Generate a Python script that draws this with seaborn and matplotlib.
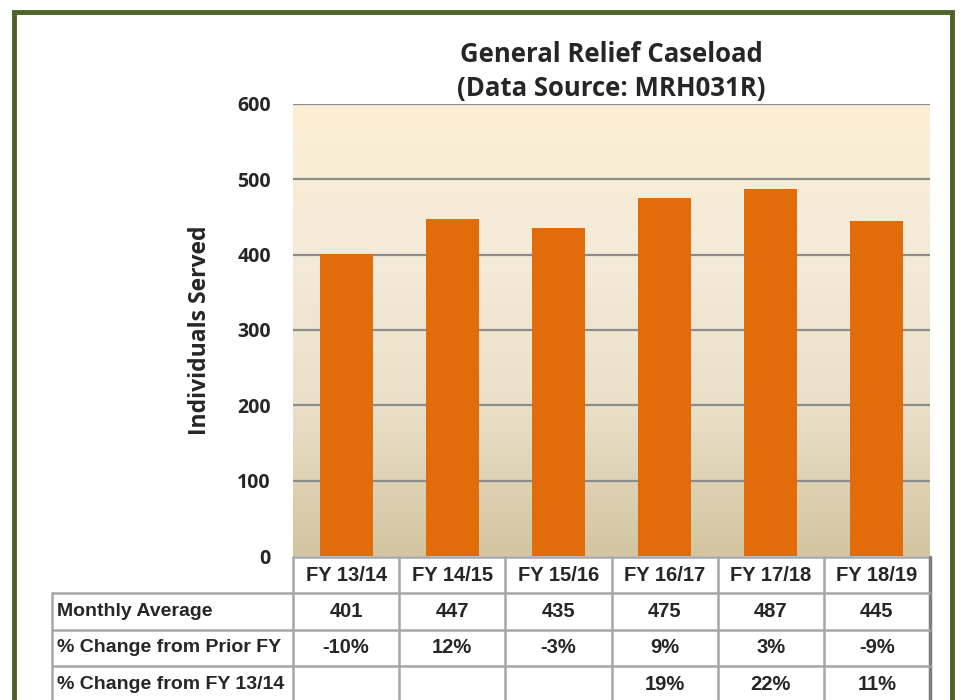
import numpy as np
import pandas as pd
import seaborn as sns
import matplotlib.pyplot as plt
from matplotlib.patches import Rectangle
from matplotlib.colors import LinearSegmentedColormap

# ---- data ----
fiscal_years = ["FY 13/14", "FY 14/15", "FY 15/16", "FY 16/17", "FY 17/18", "FY 18/19"]
monthly_average = [401, 447, 435, 475, 487, 445]
pct_prior_fy = ["-10%", "12%", "-3%", "9%", "3%", "-9%"]
pct_from_1314 = ["", "", "", "19%", "22%", "11%"]
row_labels = ["Monthly Average", "% Change from Prior FY", "% Change from FY 13/14"]
y_ticks = [0, 100, 200, 300, 400, 500, 600]

df = pd.DataFrame({"year": fiscal_years, "cases": monthly_average})

sns.set_theme(style="white")
plt.rcParams["font.family"] = ["Open Sans", "DejaVu Sans"]
narrow = ["Liberation Sans Narrow", "Liberation Sans", "DejaVu Sans"]

W, H = 961, 700
fig = plt.figure(figsize=(W / 100, H / 100), dpi=100)
fig.patch.set_facecolor("white")

def px(x0, y0, x1, y1):
    # pixel box (top-left origin) -> figure fraction rect
    return [x0 / W, 1 - y1 / H, (x1 - x0) / W, (y1 - y0) / H]

# outer frame
fig.patches.append(Rectangle((14 / W, -0.05), (952 - 14) / W, 1.05 - 12 / H,
                             transform=fig.transFigure, fill=False,
                             edgecolor="#4f6228", linewidth=3.5, zorder=0))

# ---- bar chart ----
ax = fig.add_axes(px(293, 104, 930, 556))
grad = LinearSegmentedColormap.from_list(
    "bg", ["#d3c5a0", "#eae0c8", "#f3ebd9", "#fdefd3"])
ax.imshow(np.linspace(0, 1, 256).reshape(-1, 1), cmap=grad, origin="lower",
          aspect="auto", extent=(-0.5, 5.5, 0, 600), zorder=0)
sns.barplot(data=df, x="year", y="cases", color="#e36c0a", saturation=1,
            width=0.5, linewidth=0, ax=ax, zorder=3)
ax.set_xlim(-0.5, 5.5)
ax.set_ylim(0, 600)
ax.set_yticks(y_ticks)
for t in y_ticks[1:]:
    ax.axhline(t, color="#8c8c8c", linewidth=1.6, zorder=1)
ax.set_xticks([])
ax.set_xlabel("")
ax.set_ylabel("Individuals Served", fontsize=16.5, fontweight="bold", labelpad=18)
ax.tick_params(axis="y", length=0, pad=16, labelsize=14)
for lbl in ax.get_yticklabels():
    lbl.set_fontweight("bold")
for s in ax.spines.values():
    s.set_visible(False)

ax.set_title("General Relief Caseload\n(Data Source: MRH031R)",
             fontsize=18.5, fontweight="bold", linespacing=1.3, pad=6)

# ---- data table under the chart ----
lab_w = (293 - 52) / ((930 - 293) / 6)   # label column width in category units
x_left = -0.5 - lab_w
tab = fig.add_axes(px(52, 557, 930, 700))
tab.set_xlim(x_left, 5.5)
tab.set_ylim(3.93, 0)      # row 0 = header
tab.axis("off")
line_kw = dict(color="#a6a6a6", linewidth=1.8, clip_on=False)
row_vals = [[str(v) for v in monthly_average], pct_prior_fy, pct_from_1314]

# header
for i, fy in enumerate(fiscal_years):
    tab.text(i, 0.5, fy, ha="center", va="center", fontsize=14.5,
             fontweight="bold", family=narrow)
tab.plot([-0.5, 5.5], [0, 0], **line_kw)
for i in range(7):
    tab.plot([i - 0.5, i - 0.5], [0, 4], **line_kw)
tab.plot([5.5, 5.5], [0, 4], color="#7f7f7f", linewidth=2.5, clip_on=False)
tab.plot([x_left, x_left], [1, 4], **line_kw)
for r in range(1, 4):
    tab.plot([x_left, 5.5], [r, r], **line_kw)

for r, (name, vals) in enumerate(zip(row_labels, row_vals), start=1):
    tab.text(x_left + 0.05, r + 0.5, name, ha="left", va="center", fontsize=14,
             fontweight="bold", family=narrow)
    for i, v in enumerate(vals):
        tab.text(i, r + 0.5, v, ha="center", va="center", fontsize=14.5,
                 fontweight="bold", family=narrow)

fig.savefig("out.png", dpi=100)
